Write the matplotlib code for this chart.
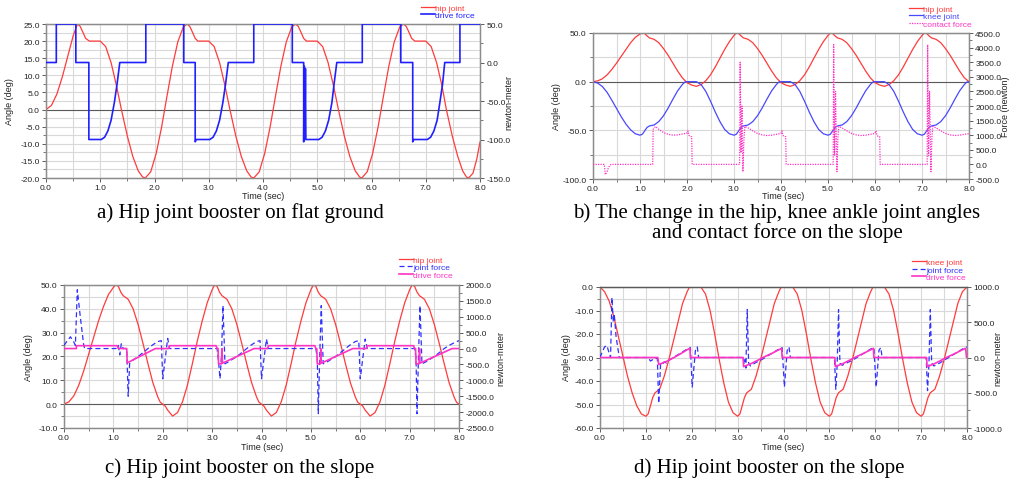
import matplotlib
matplotlib.use("Agg")
import matplotlib.pyplot as plt
from matplotlib.ticker import MultipleLocator, FormatStrFormatter

# ---------------- data ----------------
# panel a : hip joint booster on flat ground
a_hip = [(0,0),(0.1,1.2),(0.2,4.5),(0.3,9.5),(0.4,15.5),(0.5,21.5),(0.58,25),(0.63,24.3),(0.68,22.6),(0.73,20.8),
         (0.8,20),(0.9,20),(1.0,20),(1.1,18.4),(1.2,13.7),(1.3,6.9),(1.39,0),(1.5,-7.8),(1.6,-13.7),(1.7,-17.9),(1.78,-19.7),(1.83,-20),
         (1.93,-18.2),(2.03,-12.9),(2.13,-5.2),(2.23,3.9),(2.33,12.7),(2.43,19.8),(2.53,24.1),(2.6,25),
         (2.65,24.3),(2.7,22.6),(2.75,20.8),(2.8,20),(2.9,20),(3.0,20),(3.1,18.4),(3.2,13.7),(3.3,6.9),(3.39,0),(3.5,-7.8),(3.6,-13.7),(3.7,-17.9),(3.78,-19.7),(3.83,-20),
         (3.93,-18.2),(4.03,-12.9),(4.13,-5.2),(4.23,3.9),(4.33,12.7),(4.43,19.8),(4.53,24.1),(4.6,25),
         (4.65,24.3),(4.7,22.6),(4.75,20.8),(4.8,20),(4.9,20),(5.0,20),(5.1,18.4),(5.2,13.7),(5.3,6.9),(5.39,0),(5.5,-7.8),(5.6,-13.7),(5.7,-17.9),(5.78,-19.7),(5.82,-20),
         (5.92,-18.2),(6.02,-12.9),(6.12,-5.2),(6.22,3.9),(6.32,12.7),(6.42,19.8),(6.52,24.1),(6.59,25),
         (6.64,24.3),(6.69,22.6),(6.74,20.8),(6.8,20),(6.9,20),(7.0,20),(7.1,18.4),(7.2,13.7),(7.3,6.9),(7.38,0),(7.49,-7.8),(7.59,-13.7),(7.68,-17.9),(7.75,-19.7),(7.79,-20),
         (7.87,-18.6),(7.94,-14.5),(8.0,-9.5)]
a_drive = [(0,0),(0.19,0),(0.19,50),(0.55,50),(0.55,0),(0.79,0),(0.79,-100),(1.02,-100),(1.08,-97),(1.14,-89),(1.2,-75),(1.26,-52),(1.31,-28),(1.36,0),
           (1.84,0),(1.84,50),(2.54,50),(2.54,0),(2.75,0),(2.75,-103),(2.77,-100),(3.02,-100),(3.08,-97),(3.14,-89),(3.2,-75),(3.26,-52),(3.31,-28),(3.36,0),
           (3.83,0),(3.83,50),(4.54,50),(4.54,0),(4.75,0),(4.75,-103),(4.762,-5),(4.772,-100),(4.782,-8),(4.79,-100),(5.03,-100),(5.09,-97),(5.15,-89),(5.21,-75),(5.27,-52),(5.31,-28),(5.36,0),
           (5.83,0),(5.83,50),(6.54,50),(6.54,0),(6.76,0),(6.76,-103),(6.78,-100),(7.03,-100),(7.09,-97),(7.15,-89),(7.21,-75),(7.26,-52),(7.31,-28),(7.35,0),
           (7.63,0),(7.63,50),(8.0,50)]

# panel b : hip, knee angles and contact force on the slope
b_hip = [(0,0),(0.1,0.8),(0.2,3),(0.3,7),(0.4,12.5),(0.5,19),(0.6,26),(0.7,33),(0.8,40),(0.9,45.5),(1.0,49),(1.05,50),(1.1,49.5),(1.15,47),
         (1.2,45),(1.3,43.5),(1.4,40),(1.5,34),(1.6,27),(1.7,19),(1.8,11),(1.9,4),(2.0,-1),(2.1,-3.5),(2.2,-4.8),(2.3,-3),(2.4,1),(2.5,7),(2.6,15),
         (2.7,24),(2.8,33),(2.9,41),(3.0,47.5),(3.05,50),(3.1,49.5),(3.15,47),
         (3.2,45),(3.3,43.5),(3.4,40),(3.5,34),(3.6,27),(3.7,19),(3.8,11),(3.9,4),(4.0,-1),(4.1,-3.5),(4.2,-4.8),(4.3,-3),(4.4,1),(4.5,7),(4.6,15),
         (4.7,24),(4.8,33),(4.9,41),(5.0,47.5),(5.05,50),(5.1,49.5),(5.15,47),
         (5.2,45),(5.3,43.5),(5.4,40),(5.5,34),(5.6,27),(5.7,19),(5.8,11),(5.9,4),(6.0,-1),(6.1,-3.5),(6.2,-4.8),(6.3,-3),(6.4,1),(6.5,7),(6.6,15),
         (6.7,24),(6.8,33),(6.9,41),(7.0,47.5),(7.05,50),(7.1,49.5),(7.15,47),
         (7.2,45),(7.3,43.5),(7.4,40),(7.5,34),(7.6,27),(7.7,19),(7.8,11),(7.9,4),(8.0,0)]
b_knee = [(0,0),(0.1,-1.5),(0.2,-5),(0.3,-11),(0.4,-19),(0.5,-27.5),(0.6,-36),(0.7,-43.5),(0.8,-49.5),(0.9,-53.5),(1.0,-55),(1.05,-54),(1.1,-50.5),(1.15,-47),
          (1.2,-45.5),(1.3,-44.5),(1.4,-41),(1.5,-35),(1.6,-27),(1.7,-18),(1.8,-9.5),(1.9,-3),(1.95,-0.5),(2.0,0),(2.2,0),
          (2.3,-3),(2.4,-10),(2.5,-20),(2.6,-31),(2.7,-41),(2.8,-49),(2.9,-53.5),(3.0,-55),(3.05,-54),(3.1,-50.5),(3.15,-47),
          (3.2,-45.5),(3.3,-44.5),(3.4,-41),(3.5,-35),(3.6,-27),(3.7,-18),(3.8,-9.5),(3.9,-3),(3.95,-0.5),(4.0,0),(4.2,0),
          (4.3,-3),(4.4,-10),(4.5,-20),(4.6,-31),(4.7,-41),(4.8,-49),(4.9,-53.5),(5.0,-55),(5.05,-54),(5.1,-50.5),(5.15,-47),
          (5.2,-45.5),(5.3,-44.5),(5.4,-41),(5.5,-35),(5.6,-27),(5.7,-18),(5.8,-9.5),(5.9,-3),(5.95,-0.5),(6.0,0),(6.2,0),
          (6.3,-3),(6.4,-10),(6.5,-20),(6.6,-31),(6.7,-41),(6.8,-49),(6.9,-53.5),(7.0,-55),(7.05,-54),(7.1,-50.5),(7.15,-47),
          (7.2,-45.5),(7.3,-44.5),(7.4,-41),(7.5,-35),(7.6,-27),(7.7,-18),(7.8,-9.5),(7.9,-3),(7.95,-0.5),(8.0,0)]
b_contact = [(0,0),(0.24,0),(0.25,-150),(0.26,-350),(0.3,-250),(0.33,-100),(0.38,0),(1.27,0),(1.28,1200),(1.33,1300),(1.4,1200),(1.5,1090),(1.6,1030),
             (1.7,1000),(1.8,1010),(1.9,1040),(2.0,1070),(2.02,1150),(2.04,1000),(2.07,950),(2.1,950),(2.11,0),
             (3.12,0),(3.13,3500),(3.15,400),(3.17,2000),(3.19,-250),(3.21,800),(3.23,1300),(3.3,1250),(3.4,1150),(3.5,1060),(3.6,1010),
             (3.7,990),(3.8,1000),(3.9,1030),(4.0,1060),(4.02,1150),(4.04,1000),(4.07,950),(4.1,950),(4.11,0),
             (5.11,0),(5.12,4100),(5.14,300),(5.16,2500),(5.19,-250),(5.21,900),(5.23,1300),(5.3,1250),(5.4,1150),(5.5,1060),(5.6,1010),
             (5.7,990),(5.8,1000),(5.9,1030),(6.0,1060),(6.02,1150),(6.04,1000),(6.07,950),(6.1,950),(6.11,0),
             (7.11,0),(7.12,4100),(7.14,300),(7.16,2500),(7.19,-250),(7.21,900),(7.23,1300),(7.3,1250),(7.4,1150),(7.5,1060),(7.6,1010),
             (7.7,990),(7.8,1000),(7.9,1030),(8.0,1050)]

# panel c : hip joint booster on the slope (hip)
c_hip = [(0,0),(0.1,1),(0.2,3.5),(0.3,8),(0.4,14),(0.5,21),(0.6,28),(0.7,35),(0.8,41),(0.9,46),(1.0,49),(1.05,50),(1.1,49.5),(1.15,47),
         (1.2,45.5),(1.3,44),(1.4,40),(1.5,33.5),(1.6,25.5),(1.7,17),(1.8,9),(1.9,3),(1.95,0.8),(2.0,0),(2.05,-0.8),(2.1,-2.5),(2.2,-5),(2.3,-3.5),
         (2.4,1),(2.5,8),(2.6,17),(2.7,26.5),(2.8,35),(2.9,42.5),(3.0,48),(3.05,50),(3.1,49.5),(3.15,47),
         (3.2,45.5),(3.3,44),(3.4,40),(3.5,33.5),(3.6,25.5),(3.7,17),(3.8,9),(3.9,3),(3.95,0.8),(4.0,0),(4.05,-0.8),(4.1,-2.5),(4.2,-5),(4.3,-3.5),
         (4.4,1),(4.5,8),(4.6,17),(4.7,26.5),(4.8,35),(4.9,42.5),(5.0,48),(5.05,50),(5.1,49.5),(5.15,47),
         (5.2,45.5),(5.3,44),(5.4,40),(5.5,33.5),(5.6,25.5),(5.7,17),(5.8,9),(5.9,3),(5.95,0.8),(6.0,0),(6.05,-0.8),(6.1,-2.5),(6.2,-5),(6.3,-3.5),
         (6.4,1),(6.5,8),(6.6,17),(6.7,26.5),(6.8,35),(6.9,42.5),(7.0,48),(7.05,50),(7.1,49.5),(7.15,47),
         (7.2,45.5),(7.3,44),(7.4,40),(7.5,33.5),(7.6,25.5),(7.7,17),(7.8,9),(7.9,3),(7.95,0.8),(8.0,0)]
c_joint = [(0,100),(0.07,250),(0.13,370),(0.2,200),(0.23,100),(0.27,1850),(0.33,1000),(0.4,100),(0.42,0),(1.05,0),(1.1,100),(1.13,-200),(1.16,150),(1.2,0),
           (1.27,0),(1.3,-1500),(1.33,-450),(1.38,-380),(1.5,-250),(1.6,-130),(1.7,0),(1.8,120),(1.9,220),(1.97,250),(2.0,-950),(2.1,320),(2.14,0),
           (3.1,0),(3.13,-400),(3.16,-950),(3.19,-200),(3.22,1350),(3.26,-480),(3.35,-400),(3.5,-250),(3.6,-130),(3.7,0),(3.8,120),(3.9,220),(3.97,250),
           (4.0,-950),(4.1,300),(4.14,0),
           (5.1,0),(5.13,-300),(5.15,-2050),(5.18,-200),(5.21,1350),(5.25,-480),(5.35,-400),(5.5,-250),(5.6,-130),(5.7,0),(5.8,120),(5.9,220),(5.97,250),
           (6.0,-950),(6.1,300),(6.14,0),
           (7.1,0),(7.13,-300),(7.15,-2050),(7.18,-200),(7.21,1350),(7.25,-480),(7.35,-400),(7.5,-250),(7.6,-130),(7.7,0),(7.8,100),(7.9,180),(8.0,250)]
c_drive = [(0,0),(0.25,0),(0.25,90),(1.08,90),(1.1,0),(1.27,0),(1.28,-450),(1.85,0),(2.12,0),(2.14,90),(3.08,90),(3.1,0),(3.12,0),(3.13,-480),
           (3.19,-480),(3.2,0),(3.21,-460),(3.85,0),(4.12,0),(4.14,90),(5.08,90),(5.1,0),(5.12,0),(5.13,-480),(5.19,-480),(5.2,0),(5.21,-460),
           (5.85,0),(6.12,0),(6.14,90),(7.08,90),(7.1,0),(7.12,0),(7.13,-480),(7.19,-480),(7.2,0),(7.21,-460),(7.86,0),(8.0,0)]

# panel d : hip joint booster on the slope (knee)
d_knee = [(0,0),(0.1,-2),(0.2,-6),(0.3,-12.5),(0.4,-21),(0.5,-29.5),(0.6,-38),(0.7,-45),(0.8,-50.5),(0.9,-54),(1.0,-55),(1.05,-54),(1.1,-50.5),(1.15,-47),
          (1.2,-45),(1.3,-43.5),(1.4,-38),(1.5,-31),(1.6,-23),(1.7,-15),(1.8,-7),(1.9,-2),(1.95,0),(2.2,0),
          (2.3,-3),(2.4,-10),(2.5,-20),(2.6,-31),(2.7,-41),(2.8,-49),(2.9,-53.5),(3.0,-55),(3.05,-54),(3.1,-50.5),(3.15,-47),
          (3.2,-45),(3.3,-43.5),(3.4,-38),(3.5,-31),(3.6,-23),(3.7,-15),(3.8,-7),(3.9,-2),(3.95,0),(4.2,0),
          (4.3,-3),(4.4,-10),(4.5,-20),(4.6,-31),(4.7,-41),(4.8,-49),(4.9,-53.5),(5.0,-55),(5.05,-54),(5.1,-50.5),(5.15,-47),
          (5.2,-45),(5.3,-43.5),(5.4,-38),(5.5,-31),(5.6,-23),(5.7,-15),(5.8,-7),(5.9,-2),(5.95,0),(6.2,0),
          (6.3,-3),(6.4,-10),(6.5,-20),(6.6,-31),(6.7,-41),(6.8,-49),(6.9,-53.5),(7.0,-55),(7.05,-54),(7.1,-50.5),(7.15,-47),
          (7.2,-45),(7.3,-43.5),(7.4,-38),(7.5,-31),(7.6,-23),(7.7,-15),(7.8,-7),(7.9,-2),(8.0,0)]
d_joint = [(0,0),(0.05,80),(0.1,150),(0.15,170),(0.2,60),(0.23,0),(0.26,850),(0.29,500),(0.31,620),(0.35,300),(0.42,0),(1.05,0),(1.1,-50),(1.15,-30),
           (1.2,0),(1.25,-20),(1.28,-650),(1.32,-100),(1.36,-110),(1.4,-60),(1.45,-80),(1.5,-40),(1.6,0),(1.7,40),(1.8,80),(1.9,120),(1.97,140),
           (2.01,-420),(2.08,100),(2.12,150),(2.15,0),
           (3.12,0),(3.14,-100),(3.16,-30),(3.18,-150),(3.21,680),(3.24,-80),(3.28,-120),(3.4,-70),(3.5,-40),(3.6,0),(3.7,40),(3.8,80),(3.9,120),(3.97,140),
           (4.02,-420),(4.08,100),(4.12,150),(4.15,0),
           (5.11,0),(5.14,-450),(5.17,-100),(5.2,680),(5.23,-80),(5.28,-110),(5.4,-70),(5.5,-40),(5.6,0),(5.7,40),(5.8,80),(5.9,120),(5.97,140),
           (6.02,-420),(6.08,100),(6.12,140),(6.15,0),
           (7.11,0),(7.14,-470),(7.17,-100),(7.2,680),(7.23,-80),(7.28,-120),(7.4,-80),(7.5,-40),(7.6,0),(7.7,40),(7.8,80),(7.9,120),(8.0,150)]
d_drive = [(0,0),(1.26,0),(1.28,-100),(1.45,-55),(1.6,-5),(1.75,50),(1.9,110),(1.96,130),(1.97,0),
           (3.12,0),(3.13,-130),(3.3,-85),(3.45,-35),(3.6,15),(3.75,60),(3.9,110),(3.96,130),(3.97,0),
           (5.12,0),(5.13,-130),(5.3,-85),(5.45,-35),(5.6,15),(5.75,60),(5.9,110),(5.96,130),(5.97,0),
           (7.12,0),(7.13,-130),(7.3,-85),(7.45,-35),(7.6,15),(7.75,60),(7.9,110),(7.97,130),(7.99,0),(8.0,0)]

captions = ["a) Hip joint booster on flat ground",
            "b) The change in the hip, knee ankle joint angles\nand contact force on the slope",
            "c) Hip joint booster on the slope",
            "d) Hip joint booster on the slope"]

# ---------------- styling ----------------
RED = "#ff3b3b"
BLUE = "#3030ff"
MAG = "#ff33c4"
GRID = "#d9d9d9"
FRAME = "#8c8c8c"
W, H = 1016, 485

plt.rcParams["font.family"] = ["Liberation Sans", "DejaVu Sans"]
fig = plt.figure(figsize=(W / 100, H / 100), dpi=100)


def unz(pairs):
    return [p[0] for p in pairs], [p[1] for p in pairs]


def make_axes(px):
    l, r, t, b = px
    return fig.add_axes([l / W, 1 - b / H, (r - l) / W, (b - t) / H])


def style(ax, axr, ylim, ystep, rylim, rystep, lab_px, rlab, rlab_px, xlab_px, zero=True):
    ax.set_xlim(0, 8)
    ax.set_ylim(*ylim)
    axr.set_ylim(*rylim)
    ax.xaxis.set_major_locator(MultipleLocator(1))
    ax.xaxis.set_minor_locator(MultipleLocator(0.5))
    ax.yaxis.set_major_locator(MultipleLocator(ystep))
    ax.yaxis.set_minor_locator(MultipleLocator(ystep / 2))
    axr.yaxis.set_major_locator(MultipleLocator(rystep))
    axr.yaxis.set_minor_locator(MultipleLocator(rystep / 2))
    for a in (ax, axr):
        a.yaxis.set_major_formatter(FormatStrFormatter("%.1f"))
        for s in a.spines.values():
            s.set_color(FRAME)
            s.set_linewidth(0.9)
        a.tick_params(which="both", labelsize=6, colors="#444444", labelcolor="#222222", pad=1.5)
        a.tick_params(which="major", length=3, width=0.6)
        a.tick_params(which="minor", length=2, width=0.5)
    ax.xaxis.set_major_formatter(FormatStrFormatter("%.1f"))
    ax.grid(which="both", axis="both", color=GRID, linewidth=0.8, zorder=0)
    ax.set_axisbelow(True)
    if zero:
        ax.axhline(0, color="#5a5a5a", linewidth=0.8, zorder=1)
    # left label: coordinate = right edge of rotated text ; right label: left edge
    ax.set_ylabel("Angle (deg)", fontsize=6.5, color="#222222")
    ax.yaxis.set_label_coords((lab_px[0] + 4) / W, 1 - lab_px[1] / H, transform=fig.transFigure)
    axr.set_ylabel(rlab, fontsize=6.5, color="#222222")
    axr.yaxis.set_label_coords((rlab_px[0] - 4) / W, 1 - rlab_px[1] / H, transform=fig.transFigure)
    ax.set_xlabel("Time (sec)", fontsize=6.5, color="#222222")
    ax.xaxis.set_label_coords(xlab_px[0] / W, 1 - (xlab_px[1] - 4.5) / H, transform=fig.transFigure)


def legend(ax, handles, px):
    leg = ax.legend(handles=handles, loc="upper left", bbox_to_anchor=(px[0] / W, 1 - px[1] / H),
                    bbox_transform=fig.transFigure, frameon=False, fontsize=6, labelcolor="linecolor",
                    handlelength=1.7, handletextpad=0.0, labelspacing=-0.05, borderpad=0, borderaxespad=0)
    leg.set_zorder(10)


# ---- panel a ----
ax = make_axes((46, 480, 25, 179))
axr = ax.twinx()
t, v = unz(a_hip)
l1, = ax.plot(t, v, color=RED, lw=0.9, label="hip joint", zorder=3)
t, v = unz(a_drive)
l2, = axr.plot(t, v, color="#2020ff", lw=1.2, label="drive force", zorder=3)
style(ax, axr, (-20, 25), 5, (-150, 50), 50, (10, 102), "newton-meter", (508, 102), (263, 197))
legend(axr, [l1, l2], (421, 5))

# ---- panel b ----
ax = make_axes((593, 969, 34, 180))
axr = ax.twinx()
t, v = unz(b_hip)
l1, = ax.plot(t, v, color=RED, lw=0.9, label="hip joint", zorder=3)
t, v = unz(b_knee)
l2, = ax.plot(t, v, color="#4848ff", lw=0.9, label="knee joint", zorder=3)
t, v = unz(b_contact)
l3, = axr.plot(t, v, color=MAG, lw=0.9, ls=(0, (1, 1)), label="contact force", zorder=3)
style(ax, axr, (-100, 50), 50, (-500, 4500), 500, (557, 107), "Force (newton)", (1005, 107), (783, 197))
ax.yaxis.set_minor_locator(MultipleLocator(25))
axr.yaxis.set_minor_locator(MultipleLocator(250))
legend(axr, [l1, l2, l3], (909, 6))

# ---- panel c ----
ax = make_axes((64, 459, 286, 429))
axr = ax.twinx()
t, v = unz(c_hip)
l1, = ax.plot(t, v, color=RED, lw=0.9, label="hip joint", zorder=3)
t, v = unz(c_joint)
l2, = axr.plot(t, v, color=BLUE, lw=0.9, ls=(0, (4, 2.5)), label="joint force", zorder=3)
t, v = unz(c_drive)
l3, = axr.plot(t, v, color=MAG, lw=1.2, label="drive force", zorder=4)
style(ax, axr, (-10, 50), 10, (-2500, 2000), 500, (29, 358), "newton-meter", (500, 358), (262, 448))
axr.yaxis.set_minor_locator(MultipleLocator(250))
legend(axr, [l1, l2, l3], (399, 257))

# ---- panel d ----
ax = make_axes((600, 967, 288, 429))
axr = ax.twinx()
t, v = unz(d_knee)
l1, = ax.plot(t, v, color=RED, lw=0.9, label="knee joint", zorder=3)
t, v = unz(d_joint)
l2, = axr.plot(t, v, color=BLUE, lw=0.9, ls=(0, (4, 2.5)), label="joint force", zorder=3)
t, v = unz(d_drive)
l3, = axr.plot(t, v, color=MAG, lw=1.2, label="drive force", zorder=4)
style(ax, axr, (-60, 0), 10, (-1000, 1000), 500, (567, 358), "newton-meter", (997, 358), (783, 448), zero=False)
ax.spines["top"].set_color("#5a5a5a")
axr.spines["top"].set_color("#5a5a5a")
legend(axr, [l1, l2, l3], (912, 259.5))

# ---- captions ----
cap_pos = [(240, 213), (777, 223), (240, 468), (769, 468)]
for txt, (x, y) in zip(captions, cap_pos):
    fig.text(x / W, 1 - y / H, txt, ha="center", va="center", family="Liberation Serif",
             fontsize=15, color="black", linespacing=1.0)

fig.savefig("out.png", dpi=100)
